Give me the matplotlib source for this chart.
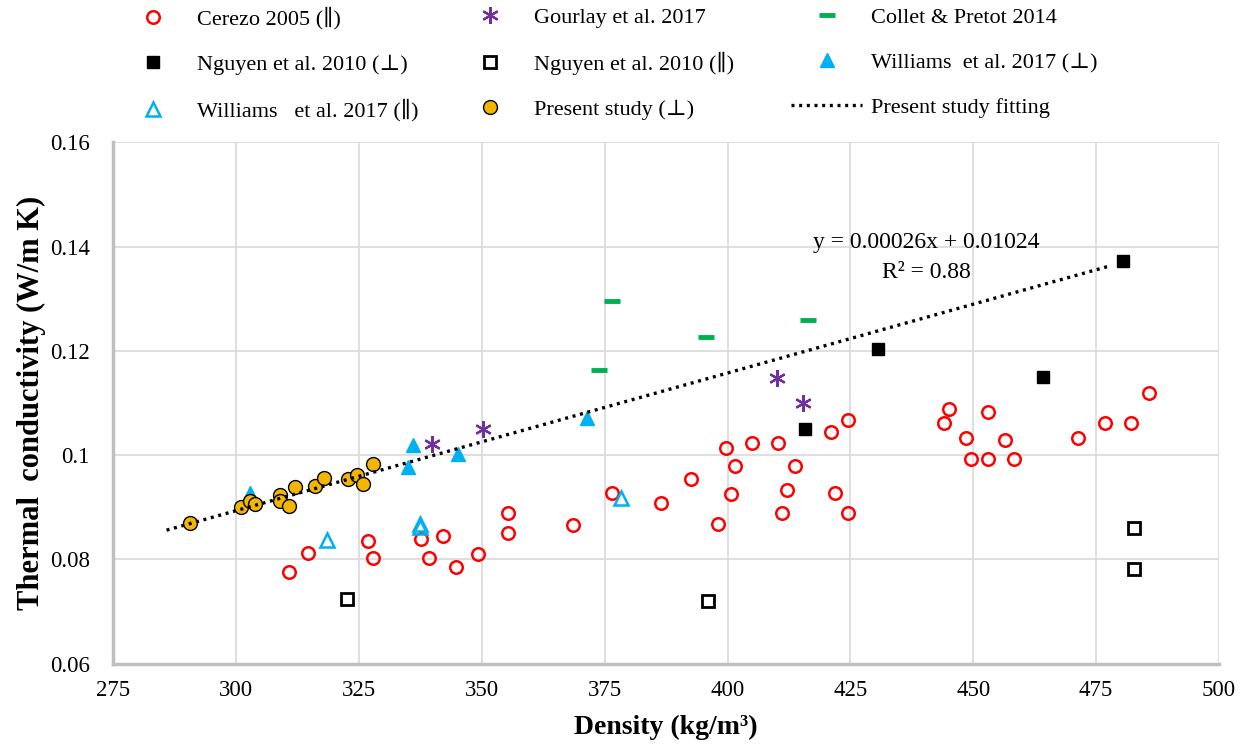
import matplotlib as mpl
mpl.use('Agg')

import numpy as np
import matplotlib.pyplot as plt

plt.rcParams['font.family'] = ['Liberation Serif', 'DejaVu Serif']

# Cerezo 2005 (parallel)
cerezo_x = [310.8, 314.5, 326.9, 327.8, 337.6, 339.3, 342.0, 344.7, 349.1, 355.4,
            355.4, 368.5, 376.5, 386.4, 392.6, 398.0, 399.6, 400.6, 401.5, 405.0,
            410.3, 411.1, 412.1, 413.7, 421.0, 421.8, 424.6, 424.6, 444.1, 445.0,
            448.5, 449.6, 453.0, 453.0, 456.5, 458.3, 471.4, 476.9, 482.1, 485.8]
cerezo_y = [0.0775, 0.0813, 0.0835, 0.0803, 0.0839, 0.0803, 0.0845, 0.0785, 0.0810, 0.0889,
            0.0850, 0.0866, 0.0928, 0.0909, 0.0954, 0.0868, 0.1013, 0.0925, 0.0979, 0.1024,
            0.1024, 0.0889, 0.0933, 0.0979, 0.1044, 0.0928, 0.1067, 0.0888, 0.1062, 0.1088,
            0.1033, 0.0993, 0.1083, 0.0993, 0.1029, 0.0993, 0.1033, 0.1062, 0.1062, 0.1119]

gourlay_x = [339.8, 350.3, 410.0, 415.4]
gourlay_y = [0.1021, 0.1050, 0.1147, 0.1099]

collet_x = [373.8, 376.5, 395.6, 416.3]
collet_y = [0.1163, 0.1296, 0.1227, 0.1259]

nguyen_perp_x = [415.7, 430.7, 464.2, 480.5]
nguyen_perp_y = [0.1050, 0.1204, 0.1150, 0.1373]

nguyen_par_x = [322.6, 396.1, 482.8, 482.8]
nguyen_par_y = [0.0724, 0.0721, 0.0861, 0.0781]

williams_perp_x = [302.8, 335.0, 336.0, 345.1, 371.4]
williams_perp_y = [0.0927, 0.0978, 0.1019, 0.1003, 0.1071]

williams_par_x = [318.4, 337.3, 337.3, 378.4]
williams_par_y = [0.0837, 0.0868, 0.0862, 0.0917]

present_x = [290.6, 300.9, 302.8, 303.8, 308.9, 308.9, 310.8, 311.9, 316.0, 317.8,
             322.8, 324.6, 325.8, 327.8]
present_y = [0.0869, 0.0901, 0.0911, 0.0907, 0.0923, 0.0912, 0.0902, 0.0938, 0.0941, 0.0957,
             0.0955, 0.0962, 0.0944, 0.0983]

fit_range = [285.8, 477.5]
fit_slope = 0.000264
fit_intercept = 0.01015

fig = plt.figure(figsize=(12.47, 7.49), dpi=100)
ax = fig.add_axes([0.091, 0.114, 0.8865, 0.696])

h_cer, = ax.plot(cerezo_x, cerezo_y, 'o', ls='none', ms=9, mfc='none', mec='#FF0000', mew=1.8,
                 label='Cerezo 2005 (\u2225)')
h_gou, = ax.plot(gourlay_x, gourlay_y, marker=(6, 2, 0), ls='none', ms=12, mec='#7030A0',
                 mew=1.6, label='Gourlay et al. 2017')
h_col, = ax.plot(collet_x, collet_y, '_', ls='none', ms=11, mec='#00B050', mew=3.5,
                 label='Collet & Pretot 2014')
h_np, = ax.plot(nguyen_perp_x, nguyen_perp_y, 's', ls='none', ms=9, mfc='black', mec='black',
                label='Nguyen et al. 2010 (\u22a5)')
h_npa, = ax.plot(nguyen_par_x, nguyen_par_y, 's', ls='none', ms=8.5, mfc='white', mec='black',
                 mew=2, label='Nguyen et al. 2010 (\u2225)')
h_wp, = ax.plot(williams_perp_x, williams_perp_y, '^', ls='none', ms=10, mfc='#00B0F0',
                mec='#00B0F0', label='Williams  et al. 2017 (\u22a5)')
h_wpa, = ax.plot(williams_par_x, williams_par_y, '^', ls='none', ms=10, mfc='none',
                 mec='#00B0F0', mew=1.8, label='Williams   et al. 2017 (\u2225)')
h_pre, = ax.plot(present_x, present_y, 'o', ls='none', ms=10, mfc='#F2B600', mec='black',
                 mew=1.0, label='Present study (\u22a5)')
fx = np.array(fit_range)
h_fit, = ax.plot(fx, fit_slope * fx + fit_intercept, color='black', lw=2.4,
                 ls=(0, (0.9, 1.4)), zorder=5, label='Present study fitting')

ax.text(440.4, 0.1407, 'y = 0.00026x + 0.01024', fontsize=17, ha='center', va='center')
ax.text(440.4, 0.1351, 'R\u00b2 = 0.88', fontsize=17, ha='center', va='center')

ax.set_xlim(275, 500)
ax.set_ylim(0.06, 0.16)
ax.set_xticks(np.arange(275, 501, 25))
ax.set_yticks([0.06, 0.08, 0.10, 0.12, 0.14, 0.16])
ax.set_yticklabels(['0.06', '0.08', '0.1', '0.12', '0.14', '0.16'])
ax.tick_params(length=0, labelsize=16.5)
ax.tick_params(axis='y', pad=17)
ax.tick_params(axis='x', pad=12)
ax.grid(True, color='#d9d9d9', lw=1.2)
ax.set_axisbelow(True)
for s in ['top', 'right']:
    ax.spines[s].set_visible(False)
for s in ['left', 'bottom']:
    ax.spines[s].set_color('#bfbfbf')
    ax.spines[s].set_linewidth(2.5)

ax.set_xlabel('Density (kg/m\u00b3)', fontsize=20, fontweight='bold', labelpad=10)
ax.set_ylabel('Thermal  conductivity (W/m K)', fontsize=22, fontweight='bold', labelpad=3)

cols = [[h_cer, h_np, h_wpa], [h_gou, h_npa, h_pre], [h_col, h_wp, h_fit]]
xs = [117, 454, 791]
for hs, x0 in zip(cols, xs):
    leg = fig.legend(handles=hs, loc='upper left', bbox_to_anchor=(x0 / 1247, 1 - 7 / 749),
                     frameon=False, fontsize=16, handlelength=3.2, handletextpad=0.4,
                     borderpad=0, borderaxespad=0, labelspacing=1.1, numpoints=1)

plt.savefig('out.png', dpi=100)
